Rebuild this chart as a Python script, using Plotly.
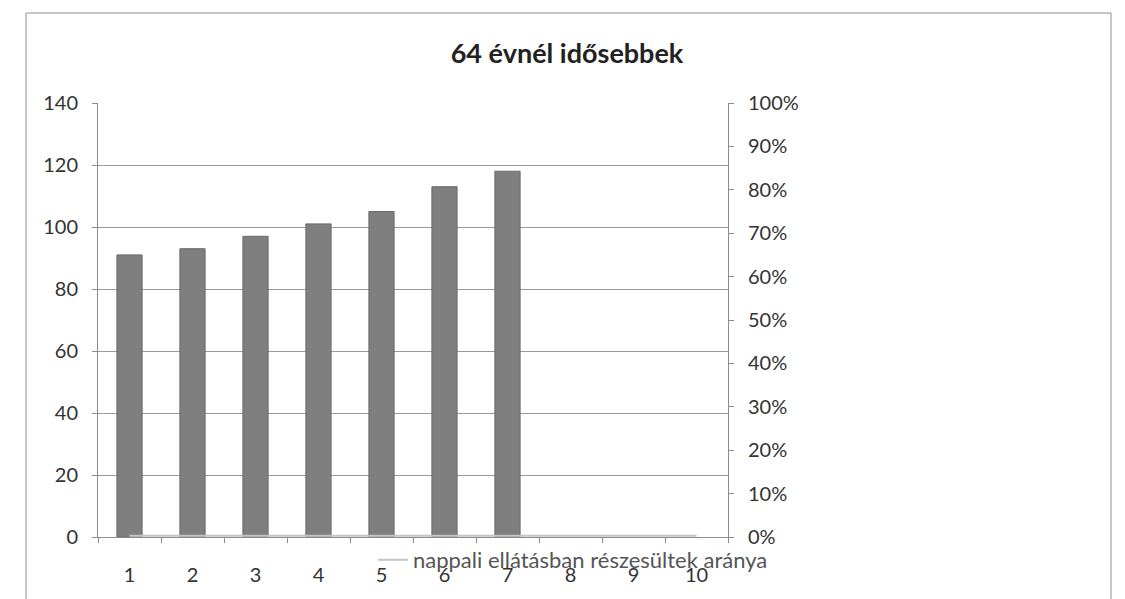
import plotly.graph_objects as go

categories = ["1", "2", "3", "4", "5", "6", "7", "8", "9", "10"]
bar_categories = ["1", "2", "3", "4", "5", "6", "7"]
bar_values = [91, 93, 97, 101, 105, 113, 118]
line_name = "nappali ellátásban részesültek aránya"
line_values = [0.003, 0.003, 0.003, 0.003, 0.003, 0.003, 0.003, 0.003, 0.003, 0.003]
left_ticks = [0, 20, 40, 60, 80, 100, 120, 140]
right_ticks = [0, 0.1, 0.2, 0.3, 0.4, 0.5, 0.6, 0.7, 0.8, 0.9, 1.0]
title_text = "64 évnél idősebbek"

FONT = "Lato, 'Open Sans', sans-serif"
TXT = "#333333"

fig = go.Figure()
fig.add_trace(go.Bar(
    x=bar_categories, y=bar_values, width=0.4,
    marker=dict(color="#7f7f7f", line=dict(color="#6a6a6a", width=1)),
    showlegend=False, name="64 évnél idősebbek",
))
fig.add_trace(go.Scatter(
    x=categories, y=line_values, yaxis="y2", mode="lines",
    line=dict(color="#c4c4c4", width=2), name=line_name,
))

# plot area pixel geometry
L, R, T, B = 98, 728, 103, 537
W, H = 1125, 599
pw, ph = R - L, B - T

def px(x):
    return (x - L) / pw

def py(y):
    return (B - y) / ph

border = "#b5b5b5"
shapes = [
    dict(type="line", xref="paper", yref="paper", x0=px(26), x1=px(1111), y0=py(13), y1=py(13),
         line=dict(color=border, width=1.5)),
    dict(type="line", xref="paper", yref="paper", x0=px(26), x1=px(26), y0=py(13), y1=py(600),
         line=dict(color=border, width=1.5)),
    dict(type="line", xref="paper", yref="paper", x0=px(1111), x1=px(1111), y0=py(13), y1=py(600),
         line=dict(color=border, width=1.5)),
]

fig.update_layout(
    width=W, height=H,
    margin=dict(l=L, r=W - R, t=T, b=H - B, pad=0, autoexpand=False),
    paper_bgcolor="white", plot_bgcolor="white",
    font=dict(family=FONT, size=20, color=TXT),
    title=dict(text="<b>" + title_text + "</b>", xref="container", x=567 / W, xanchor="center",
               yref="container", y=1 - 54 / H, yanchor="middle",
               font=dict(size=27, color="#222222")),
    xaxis=dict(
        type="category", categoryorder="array", categoryarray=categories,
        range=[-0.5, 9.5], showgrid=False, showline=True, linecolor="#8c8c8c", linewidth=1,
        ticks="outside", tickson="boundaries", ticklen=5, tickcolor="#8c8c8c",
        ticklabelstandoff=20, tickfont=dict(size=20, color=TXT), zeroline=False,
        automargin=False,
    ),
    yaxis=dict(
        range=[0, 140], tickvals=left_ticks, showgrid=True, gridcolor="#9a9a9a", gridwidth=1,
        showline=True, linecolor="#8c8c8c", linewidth=1, ticks="outside", ticklen=5,
        tickcolor="#8c8c8c", ticklabelstandoff=10, zeroline=False,
        tickfont=dict(size=20, color=TXT), automargin=False,
    ),
    yaxis2=dict(
        range=[0, 1], tickvals=right_ticks, tickformat=".0%", overlaying="y", side="right",
        showgrid=False, showline=True, linecolor="#8c8c8c", linewidth=1, ticks="outside",
        ticklen=5, tickcolor="#8c8c8c", ticklabelstandoff=10, zeroline=False,
        tickfont=dict(size=20, color=TXT), automargin=False,
    ),
    showlegend=True,
    legend=dict(x=px(373), xanchor="left", y=py(560), yanchor="middle", orientation="h",
                bgcolor="rgba(0,0,0,0)", font=dict(size=22, color="#555555"),
                itemwidth=30),
    shapes=shapes,
)

fig.write_html("out.html", config={"displayModeBar": False},
               post_script="document.body.style.margin='0px';")
